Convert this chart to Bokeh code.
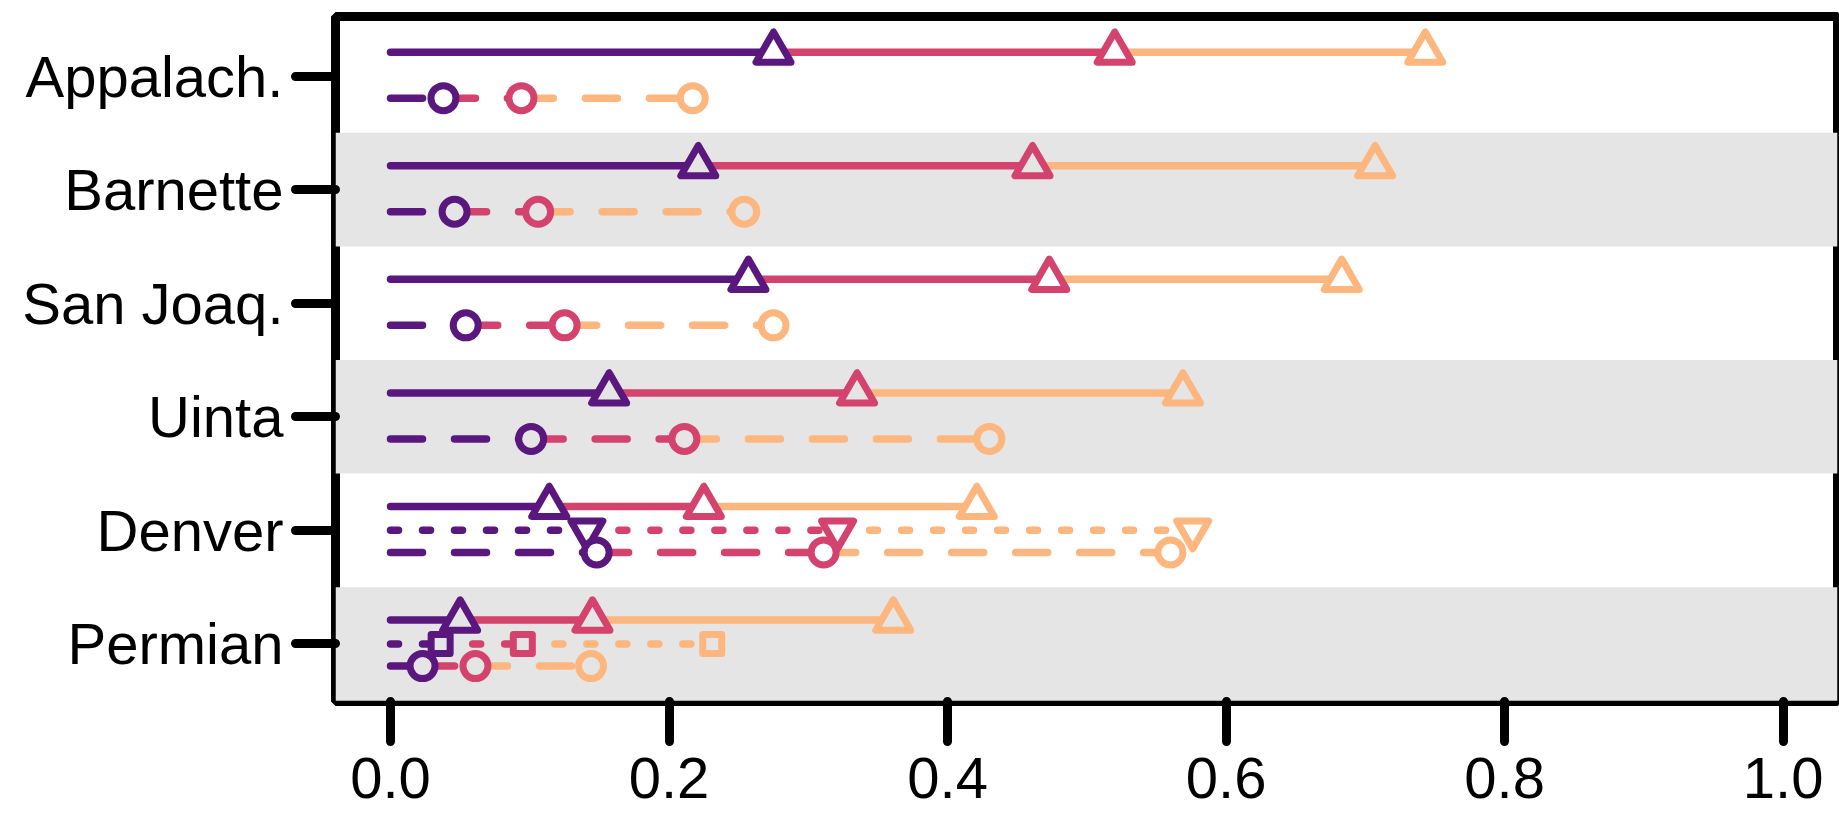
from bokeh.plotting import figure
from bokeh.models import Range1d, FixedTicker, NumeralTickFormatter
from bokeh.embed import file_html
from bokeh.resources import INLINE

# ---------------- data ----------------
categories = ["Appalach.", "Barnette", "San Joaq.", "Uinta", "Denver", "Permian"]

# solid lines, open triangles
solid_purple = [0.275, 0.221, 0.257, 0.157, 0.114, 0.050]
solid_red = [0.520, 0.461, 0.473, 0.335, 0.225, 0.145]
solid_orange = [0.743, 0.707, 0.683, 0.569, 0.421, 0.361]

# dashed lines, open circles
dashed_purple = [0.038, 0.046, 0.054, 0.101, 0.148, 0.023]
dashed_red = [0.094, 0.106, 0.125, 0.211, 0.311, 0.061]
dashed_orange = [0.217, 0.254, 0.275, 0.430, 0.560, 0.144]

# dotted lines (only two basins)
dotted_categories = ["Denver", "Permian"]
dotted_purple = [0.141, 0.036]
dotted_red = [0.321, 0.095]
dotted_orange = [0.576, 0.231]
dotted_markers = ["inverted_triangle", "square"]

shaded_categories = ["Barnette", "Uinta", "Permian"]

x_ticks = [0.0, 0.2, 0.4, 0.6, 0.8, 1.0]

# ---------------- style ----------------
PURPLE = "#5A177E"
RED = "#D3436E"
ORANGE = "#FDB67D"
BAND = "#E5E5E5"
FONT = "Liberation Sans"
LW = 7.5
MLW = 7
X_MIN, X_MAX = -0.0395, 1.0390

n = len(categories)
row_pos = {c: n - i for i, c in enumerate(categories)}

p = figure(width=1839, height=816,
           x_range=Range1d(X_MIN, X_MAX), y_range=Range1d(0.493, 6.524),
           output_backend="svg", toolbar_location=None,
           min_border_left=335, min_border_right=2,
           min_border_top=16, min_border_bottom=115)
p.background_fill_color = "white"
p.border_fill_color = "white"
p.outline_line_color = "black"
p.outline_line_width = 9
p.xgrid.visible = False
p.ygrid.visible = False

# background bands
p.hbar(y=[row_pos[c] for c in shaded_categories], height=1.0,
       left=X_MIN - 0.01, right=X_MAX + 0.01,
       fill_color=BAND, line_color=None)


def fill_for(c):
    return BAND if c in shaded_categories else "white"


def add_lines(cats, pur, red, org, offset, dash):
    ys = [row_pos[c] + offset for c in cats]
    zeros = [0.0] * len(cats)
    for x0, x1, col in [(zeros, pur, PURPLE), (pur, red, RED), (red, org, ORANGE)]:
        p.segment(x0=x0, y0=ys, x1=x1, y1=ys, line_color=col, line_width=LW,
                  line_dash=dash, line_cap="round")


def add_markers(cats, pur, red, org, offset, markers, sizes):
    ys = [row_pos[c] + offset for c in cats]
    fills = [fill_for(c) for c in cats]
    for xs, col in [(org, ORANGE), (red, RED), (pur, PURPLE)]:
        p.scatter(x=xs, y=ys, marker=markers, size=sizes, line_color=col,
                  line_width=MLW, fill_color=fills, line_join="round")


SOLID_OFF, DOTTED_OFF, DASHED_OFF = 0.21, 0.0, -0.195

add_lines(categories, solid_purple, solid_red, solid_orange, SOLID_OFF, "solid")
add_lines(dotted_categories, dotted_purple, dotted_red, dotted_orange, DOTTED_OFF, "8 24")
add_lines(categories, dashed_purple, dashed_red, dashed_orange, DASHED_OFF, "32 32")

add_markers(categories, solid_purple, solid_red, solid_orange, SOLID_OFF,
            ["triangle"] * n, [35] * n)
add_markers(dotted_categories, dotted_purple, dotted_red, dotted_orange, DOTTED_OFF,
            dotted_markers, [32 if m == "inverted_triangle" else 19 for m in dotted_markers])
add_markers(categories, dashed_purple, dashed_red, dashed_orange, DASHED_OFF,
            ["circle"] * n, [25] * n)

# ---------------- axes ----------------
for ax in (p.xaxis, p.yaxis):
    ax.axis_line_color = None
    ax.minor_tick_line_color = None
    ax.major_tick_in = 0
    ax.major_tick_out = 40
    ax.major_tick_line_width = 9
    ax.major_tick_line_cap = "round"
    ax.major_tick_line_color = "black"
    ax.major_label_text_font = FONT
    ax.major_label_text_font_size = "58px"
    ax.major_label_text_color = "black"

p.xaxis.ticker = FixedTicker(ticks=x_ticks)
p.xaxis.formatter = NumeralTickFormatter(format="0.0")
p.xaxis.major_label_standoff = 16

p.yaxis.ticker = FixedTicker(ticks=[row_pos[c] for c in categories])
p.yaxis.major_label_overrides = {row_pos[c]: c for c in categories}
p.yaxis.major_label_standoff = 12

open("out.html", "w").write(file_html(p, INLINE))
